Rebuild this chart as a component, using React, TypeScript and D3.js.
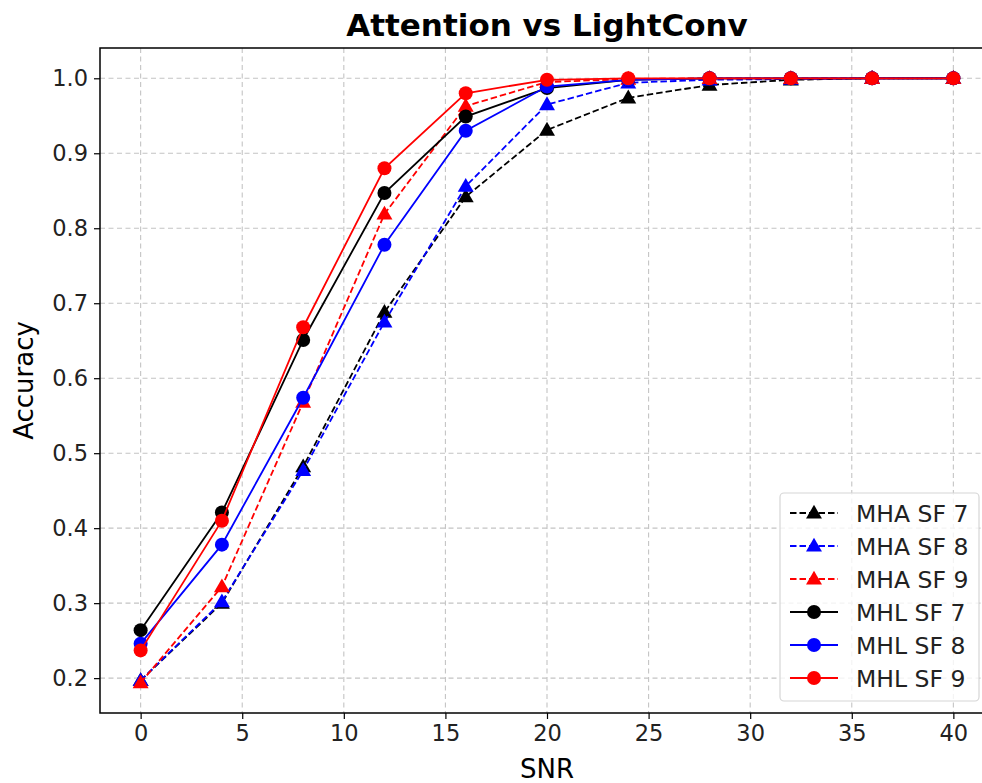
import React, { useEffect, useRef } from 'react';
import * as d3 from 'd3';

// SNR values on the x axis
const snr = [0, 4, 8, 12, 16, 20, 24, 28, 32, 36, 40];

// accuracy per series
const mhaSf7 = [0.197, 0.300, 0.482, 0.688, 0.842, 0.931, 0.974, 0.991, 0.998, 1.0, 1.0];
const mhaSf8 = [0.197, 0.302, 0.477, 0.675, 0.856, 0.965, 0.994, 0.998, 0.999, 1.0, 1.0];
const mhaSf9 = [0.194, 0.322, 0.568, 0.819, 0.963, 0.995, 0.999, 1.0, 1.0, 1.0, 1.0];
const mhlSf7 = [0.264, 0.421, 0.651, 0.847, 0.949, 0.987, 0.998, 1.0, 1.0, 1.0, 1.0];
const mhlSf8 = [0.246, 0.378, 0.574, 0.778, 0.930, 0.989, 0.998, 1.0, 1.0, 1.0, 1.0];
const mhlSf9 = [0.237, 0.410, 0.668, 0.880, 0.980, 0.998, 1.0, 1.0, 1.0, 1.0, 1.0];

const seriesNames = ['MHA SF 7', 'MHA SF 8', 'MHA SF 9', 'MHL SF 7', 'MHL SF 8', 'MHL SF 9'];
const seriesValues = [mhaSf7, mhaSf8, mhaSf9, mhlSf7, mhlSf8, mhlSf9];
const seriesColors = ['#000000', '#0000ff', '#ff0000', '#000000', '#0000ff', '#ff0000'];

const xTicks = [0, 5, 10, 15, 20, 25, 30, 35, 40];
const yTicks = [0.2, 0.3, 0.4, 0.5, 0.6, 0.7, 0.8, 0.9, 1.0];

const FONT = 'DejaVu Sans, sans-serif';

const App = () => {
  const ref = useRef<SVGSVGElement>(null);

  useEffect(() => {
    if (!ref.current) return;
    const svg = d3.select(ref.current);
    svg.selectAll('*').remove();

    const left = 100, right = 994, top = 48, bottom = 713;

    const x = d3.scaleLinear().domain([-2, 42]).range([left, right]);
    const y = d3.scaleLinear().domain([0.1535, 1.0404]).range([bottom, top]);

    svg.append('rect').attr('width', 982).attr('height', 783).attr('fill', '#fff');

    // grid
    const grid = svg.append('g').attr('stroke', '#c4c4c4').attr('stroke-width', 1.1).attr('stroke-dasharray', '5,3.5');
    xTicks.forEach(t => {
      grid.append('line').attr('x1', x(t)).attr('x2', x(t)).attr('y1', top).attr('y2', bottom);
    });
    yTicks.forEach(t => {
      grid.append('line').attr('x1', left).attr('x2', right).attr('y1', y(t)).attr('y2', y(t));
    });

    // series
    const line = d3.line<number>().x((_, i) => x(snr[i])).y(d => y(d));
    const tri = d3.symbol().type(d3.symbolTriangle).size(110);

    seriesValues.forEach((vals, k) => {
      const dashed = k < 3;
      const g = svg.append('g');
      g.append('path')
        .attr('d', line(vals))
        .attr('fill', 'none')
        .attr('stroke', seriesColors[k])
        .attr('stroke-width', 1.8)
        .attr('stroke-dasharray', dashed ? '6.5,3' : null);
      if (dashed) {
        g.selectAll('path.m').data(vals).join('path')
          .attr('class', 'm')
          .attr('d', tri()!)
          .attr('transform', (d, i) => `translate(${x(snr[i])},${y(d) + 1})`)
          .attr('fill', seriesColors[k]);
      } else {
        g.selectAll('circle').data(vals).join('circle')
          .attr('cx', (_, i) => x(snr[i]))
          .attr('cy', d => y(d))
          .attr('r', 7)
          .attr('fill', seriesColors[k]);
      }
    });

    // spines
    svg.append('rect')
      .attr('x', left).attr('y', top)
      .attr('width', right - left).attr('height', bottom - top)
      .attr('fill', 'none').attr('stroke', '#000').attr('stroke-width', 1.5);

    // x axis
    const xAxis = svg.append('g')
      .attr('transform', `translate(0,${bottom})`)
      .call(d3.axisBottom(x).tickValues(xTicks).tickSize(6).tickPadding(6).tickFormat(d3.format('d')));
    xAxis.select('.domain').remove();
    xAxis.selectAll('line').attr('stroke-width', 1.2);
    xAxis.selectAll('text').attr('font-family', FONT).attr('font-size', 22.5).attr('fill', '#222');

    // y axis
    const yAxis = svg.append('g')
      .attr('transform', `translate(${left},0)`)
      .call(d3.axisLeft(y).tickValues(yTicks).tickSize(6).tickPadding(6).tickFormat(d3.format('.1f')));
    yAxis.select('.domain').remove();
    yAxis.selectAll('line').attr('stroke-width', 1.2);
    yAxis.selectAll('text').attr('font-family', FONT).attr('font-size', 22.5).attr('fill', '#222');

    // labels
    svg.append('text')
      .attr('x', (left + right) / 2).attr('y', 778)
      .attr('text-anchor', 'middle')
      .attr('font-family', FONT).attr('font-size', 26)
      .text('SNR');
    svg.append('text')
      .attr('transform', `translate(33,${(top + bottom) / 2}) rotate(-90)`)
      .attr('text-anchor', 'middle')
      .attr('font-family', FONT).attr('font-size', 26)
      .text('Accuracy');
    svg.append('text')
      .attr('x', (left + right) / 2).attr('y', 36)
      .attr('text-anchor', 'middle')
      .attr('font-family', FONT).attr('font-size', 31).attr('font-weight', 'bold')
      .text('Attention vs LightConv');

    // legend
    const lg = svg.append('g');
    lg.append('rect')
      .attr('x', 780).attr('y', 493).attr('width', 199).attr('height', 208).attr('rx', 4)
      .attr('fill', '#fff').attr('fill-opacity', 0.8)
      .attr('stroke', '#d6d6d6').attr('stroke-width', 1.2);
    seriesNames.forEach((name, k) => {
      const cy = 513 + k * 33;
      const dashed = k < 3;
      lg.append('line')
        .attr('x1', 790).attr('x2', 838).attr('y1', cy).attr('y2', cy)
        .attr('stroke', seriesColors[k]).attr('stroke-width', 1.8)
        .attr('stroke-dasharray', dashed ? '6.5,3' : null);
      if (dashed) {
        lg.append('path').attr('d', tri()!).attr('transform', `translate(814,${cy + 1})`).attr('fill', seriesColors[k]);
      } else {
        lg.append('circle').attr('cx', 814).attr('cy', cy).attr('r', 7).attr('fill', seriesColors[k]);
      }
      lg.append('text')
        .attr('x', 856).attr('y', cy + 8.5)
        .attr('font-family', FONT).attr('font-size', 23.5).attr('fill', '#222')
        .text(name);
    });
  }, []);

  return (
    <svg ref={ref} width={982} height={783}
      style={{ position: 'absolute', left: 0, top: 0, display: 'block' }} />
  );
};

export default App;
